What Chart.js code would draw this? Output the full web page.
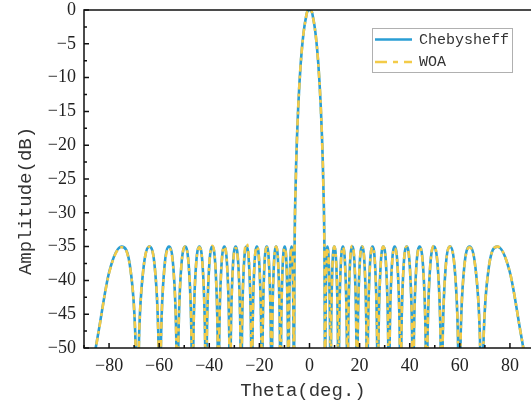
<!DOCTYPE html>
<html><head><meta charset="utf-8">
<script src="https://cdn.jsdelivr.net/npm/chart.js@4.4.1/dist/chart.umd.min.js"></script>
<style>
html,body{margin:0;padding:0;overflow:hidden;background:#fff;width:531px;height:408px}
#wrap{width:545px;height:408px}
</style></head>
<body><div id="wrap"><canvas id="c" width="545" height="408"></canvas></div>
<script>
// Angle samples (deg): nulls, flank points and lobe peaks
const thetaDeg = [
  -90, -84.21, -79.97, -75.02, -71.30, -69.57, -68.74,
  -67.96, -66.44, -63.89, -61.57, -60.37, -59.78,
  -59.20, -58.07, -56.08, -54.20, -53.22, -52.73,
  -52.26, -51.33, -49.62, -48.02, -47.15, -46.71,
  -46.30, -45.47, -43.95, -42.50, -41.71, -41.31,
  -40.93, -40.17, -38.77, -37.43, -36.70, -36.34,
  -35.99, -35.28, -33.99, -32.74, -32.05, -31.71,
  -31.37, -30.70, -29.47, -28.25, -27.58, -27.25,
  -26.94, -26.31, -25.15, -23.98, -23.34, -23.02,
  -22.72, -22.11, -21.00, -19.88, -19.27, -18.97,
  -18.68, -18.11, -17.05, -16.01, -15.44, -15.15,
  -14.88, -14.33, -13.33, -12.36, -11.83, -11.57,
  -11.32, -10.81, -9.89, -9.07, -8.62, -8.39,
  -8.20, -7.82, -7.13, -6.65, -6.38, -6.25,
  -6.0, -5.5, -5.0, -4.5, -4.0, -3.5, -3.0, -2.5, -2.0, -1.5, -1.0, -0.5,
  0,
  0.5, 1.0, 1.5, 2.0, 2.5, 3.0, 3.5, 4.0, 4.5, 5.0, 5.5, 6.0,
  6.25, 6.38, 6.65, 7.13, 7.82, 8.20,
  8.39, 8.62, 9.07, 9.89, 10.81, 11.32,
  11.57, 11.83, 12.36, 13.33, 14.33, 14.88,
  15.15, 15.44, 16.01, 17.05, 18.11, 18.68,
  18.97, 19.27, 19.88, 21.00, 22.11, 22.72,
  23.02, 23.34, 23.98, 25.15, 26.31, 26.94,
  27.25, 27.58, 28.25, 29.47, 30.70, 31.37,
  31.71, 32.05, 32.74, 33.99, 35.28, 35.99,
  36.34, 36.70, 37.43, 38.77, 40.17, 40.93,
  41.31, 41.71, 42.50, 43.95, 45.47, 46.30,
  46.71, 47.15, 48.02, 49.62, 51.33, 52.26,
  52.73, 53.22, 54.20, 56.08, 58.07, 59.20,
  59.78, 60.37, 61.57, 63.89, 66.44, 67.96,
  68.74, 69.57, 71.30, 75.02, 79.97, 84.21,
  90
];

// Chebysheff pattern (dB)
const chebyshevDb = [
  -60, -47.6, -38.8, -35, -38.8, -47.6, -60,
  -47.6, -38.8, -35, -38.8, -47.6, -60,
  -47.6, -38.8, -35, -38.8, -47.6, -60,
  -47.6, -38.8, -35, -38.8, -47.6, -60,
  -47.6, -38.8, -35, -38.8, -47.6, -60,
  -47.6, -38.8, -35, -38.8, -47.6, -60,
  -47.6, -38.8, -35, -38.8, -47.6, -60,
  -47.6, -38.8, -35, -38.8, -47.6, -60,
  -47.6, -38.8, -35, -38.8, -47.6, -60,
  -47.6, -38.8, -35, -38.8, -47.6, -60,
  -47.6, -38.8, -35, -38.8, -47.6, -60,
  -47.6, -38.8, -35, -38.8, -47.6, -60,
  -47.6, -38.8, -35, -38.8, -47.6, -60,
  -47.6, -38.8, -35, -38.8, -47.6, -60,
  -37.7, -25.5, -18.95, -14.31, -10.74, -7.89, -5.6, -3.78, -2.35, -1.28, -0.36, -0.09,
  0,
  -0.09, -0.36, -1.28, -2.35, -3.78, -5.6, -7.89, -10.74, -14.31, -18.95, -25.5, -37.7,
  -60, -47.6, -38.8, -35, -38.8, -47.6,
  -60, -47.6, -38.8, -35, -38.8, -47.6,
  -60, -47.6, -38.8, -35, -38.8, -47.6,
  -60, -47.6, -38.8, -35, -38.8, -47.6,
  -60, -47.6, -38.8, -35, -38.8, -47.6,
  -60, -47.6, -38.8, -35, -38.8, -47.6,
  -60, -47.6, -38.8, -35, -38.8, -47.6,
  -60, -47.6, -38.8, -35, -38.8, -47.6,
  -60, -47.6, -38.8, -35, -38.8, -47.6,
  -60, -47.6, -38.8, -35, -38.8, -47.6,
  -60, -47.6, -38.8, -35, -38.8, -47.6,
  -60, -47.6, -38.8, -35, -38.8, -47.6,
  -60, -47.6, -38.8, -35, -38.8, -47.6,
  -60, -47.6, -38.8, -35, -38.8, -47.6,
  -60
];

// WOA pattern (dB)
const woaDb = [
  -60, -47.7, -38.9, -35.1, -38.9, -47.7, -60,
  -47.6, -38.8, -35.0, -38.8, -47.6, -60,
  -47.8, -39.0, -35.2, -39.0, -47.8, -60,
  -47.6, -38.8, -35.0, -38.8, -47.6, -60,
  -47.7, -38.9, -35.1, -38.9, -47.7, -60,
  -47.5, -38.7, -34.9, -38.7, -47.5, -60,
  -47.6, -38.8, -35.0, -38.8, -47.6, -60,
  -47.8, -39.0, -35.2, -39.0, -47.8, -60,
  -47.2, -38.4, -34.6, -38.4, -47.2, -60,
  -47.6, -38.8, -35.0, -38.8, -47.6, -60,
  -47.7, -38.9, -35.1, -38.9, -47.7, -60,
  -47.6, -38.8, -35.0, -38.8, -47.6, -60,
  -47.8, -39.0, -35.2, -39.0, -47.8, -60,
  -47.7, -38.9, -35.1, -38.9, -47.7, -60,
  -37.9, -25.6, -19.0, -14.4, -10.8, -7.9, -5.6, -3.8, -2.4, -1.3, -0.37, -0.09,
  0,
  -0.09, -0.37, -1.3, -2.4, -3.8, -5.6, -7.9, -10.8, -14.4, -19.0, -25.6, -37.9,
  -60, -47.8, -39.0, -35.2, -39.0, -47.8,
  -60, -47.6, -38.8, -35.0, -38.8, -47.6,
  -60, -47.7, -38.9, -35.1, -38.9, -47.7,
  -60, -47.5, -38.7, -34.9, -38.7, -47.5,
  -60, -47.6, -38.8, -35.0, -38.8, -47.6,
  -60, -47.7, -38.9, -35.1, -38.9, -47.7,
  -60, -47.6, -38.8, -35.0, -38.8, -47.6,
  -60, -47.8, -39.0, -35.2, -39.0, -47.8,
  -60, -47.6, -38.8, -35.0, -38.8, -47.6,
  -60, -47.7, -38.9, -35.1, -38.9, -47.7,
  -60, -47.5, -38.7, -34.9, -38.7, -47.5,
  -60, -47.6, -38.8, -35.0, -38.8, -47.6,
  -60, -47.7, -38.9, -35.1, -38.9, -47.7,
  -60, -47.6, -38.8, -35.0, -38.8, -47.6,
  -60
];

const seriesNames = ['Chebysheff', 'WOA'];
const xTickValues = [-80, -60, -40, -20, 0, 20, 40, 60, 80];
const yTickValues = [0, -5, -10, -15, -20, -25, -30, -35, -40, -45, -50];
const xTitle = 'Theta(deg.)';
const yTitle = 'Amplitude(dB)';

const BLUE = 'rgb(42,158,212)';
const YELLOW = 'rgb(243,203,72)';
const WOA_DASH = [7, 4, 3, 4];
const TITLE_FONT = '19px "Liberation Mono", monospace';

const toMinus = v => String(v).replace('-', '\u2212');

const framePlugin = {
  id: 'frameTicks',
  afterDatasetsDraw(chart) {
    const {ctx, chartArea: {left, top, right, bottom}, scales: {x, y}} = chart;
    ctx.save();
    ctx.strokeStyle = '#111';
    ctx.lineWidth = 1.5;
    ctx.beginPath();
    yTickValues.forEach(v => {
      const py = y.getPixelForValue(v);
      ctx.moveTo(left, py); ctx.lineTo(left + 5, py);
    });
    for (let i = 0; i < yTickValues.length - 1; i++) {
      const py = y.getPixelForValue((yTickValues[i] + yTickValues[i + 1]) / 2);
      ctx.moveTo(left, py); ctx.lineTo(left + 3, py);
    }
    xTickValues.forEach(v => {
      const px = x.getPixelForValue(v);
      ctx.moveTo(px, bottom); ctx.lineTo(px, bottom - 5);
    });
    const xm = [xTickValues[0] - 10].concat(xTickValues.map(v => v + 10));
    xm.forEach(v => {
      const px = x.getPixelForValue(v);
      ctx.moveTo(px, bottom); ctx.lineTo(px, bottom - 3);
    });
    ctx.stroke();
    ctx.strokeRect(left, top, right - left, bottom - top);
    ctx.restore();
  },
  afterDraw(chart) {
    const ctx = chart.ctx;
    const ds = chart.data.datasets;
    ctx.save();
    // axis titles
    ctx.fillStyle = '#333';
    ctx.font = TITLE_FONT;
    ctx.textAlign = 'center';
    ctx.textBaseline = 'middle';
    ctx.fillText(xTitle, 303, 391);
    ctx.save();
    ctx.translate(26, 201);
    ctx.rotate(-Math.PI / 2);
    ctx.fillText(yTitle, 0, 0);
    ctx.restore();
    // legend
    ctx.textAlign = 'left';
    ctx.fillStyle = '#fff';
    ctx.fillRect(372, 28, 140, 45);
    ctx.strokeStyle = '#b0b0b0';
    ctx.lineWidth = 1;
    ctx.strokeRect(372.5, 28.5, 140, 44);
    ctx.lineWidth = 2.5;
    ctx.strokeStyle = ds[0].borderColor;
    ctx.beginPath(); ctx.moveTo(375, 39.5); ctx.lineTo(412, 39.5); ctx.stroke();
    ctx.strokeStyle = ds[1].borderColor;
    ctx.setLineDash([12, 6, 5, 6]);
    ctx.beginPath(); ctx.moveTo(375, 62); ctx.lineTo(412, 62); ctx.stroke();
    ctx.setLineDash([]);
    ctx.fillStyle = '#333';
    ctx.font = '15px "Liberation Mono", monospace';
    ctx.fillText(ds[0].label, 419, 40);
    ctx.fillText(ds[1].label, 419, 62);
    ctx.restore();
  }
};

new Chart(document.getElementById('c'), {
  type: 'line',
  data: {
    datasets: [
      {
        label: seriesNames[0],
        data: thetaDeg.map((t, i) => ({x: t, y: chebyshevDb[i]})),
        borderColor: BLUE, backgroundColor: BLUE,
        borderWidth: 2.6, pointRadius: 0,
        cubicInterpolationMode: 'monotone', order: 1
      },
      {
        label: seriesNames[1],
        data: thetaDeg.map((t, i) => ({x: t, y: woaDb[i]})),
        borderColor: YELLOW, backgroundColor: YELLOW,
        borderWidth: 2.6, pointRadius: 0, borderDash: WOA_DASH,
        cubicInterpolationMode: 'monotone', order: 0
      }
    ]
  },
  options: {
    responsive: false,
    animation: false,
    devicePixelRatio: 1,
    layout: {padding: {left: 0, right: 10, top: 10, bottom: 0}},
    plugins: {legend: {display: false}, tooltip: {enabled: false}},
    scales: {
      x: {
        type: 'linear', min: -90, max: 90,
        afterBuildTicks: s => { s.ticks = xTickValues.map(v => ({value: v})); },
        afterFit: s => { s.height = 60; s.paddingLeft = 0; s.paddingRight = 0; s.paddingTop = 0; s.paddingBottom = 0; },
        grid: {display: false, drawTicks: false},
        border: {display: false},
        ticks: {
          padding: 7, maxRotation: 0, autoSkip: false,
          color: '#222', font: {family: '"Liberation Serif", serif', size: 18},
          callback: v => toMinus(v)
        },
        title: {display: false}
      },
      y: {
        type: 'linear', min: -50, max: 0,
        afterBuildTicks: s => { s.ticks = yTickValues.map(v => ({value: v})); },
        afterFit: s => { s.width = 84; s.paddingTop = 0; s.paddingBottom = 0; s.paddingLeft = 0; s.paddingRight = 0; },
        grid: {display: false, drawTicks: false},
        border: {display: false},
        ticks: {
          padding: 8, autoSkip: false,
          color: '#222', font: {family: '"Liberation Serif", serif', size: 18},
          callback: v => toMinus(v)
        },
        title: {display: false}
      }
    }
  },
  plugins: [framePlugin]
});
</script>
</body></html>
